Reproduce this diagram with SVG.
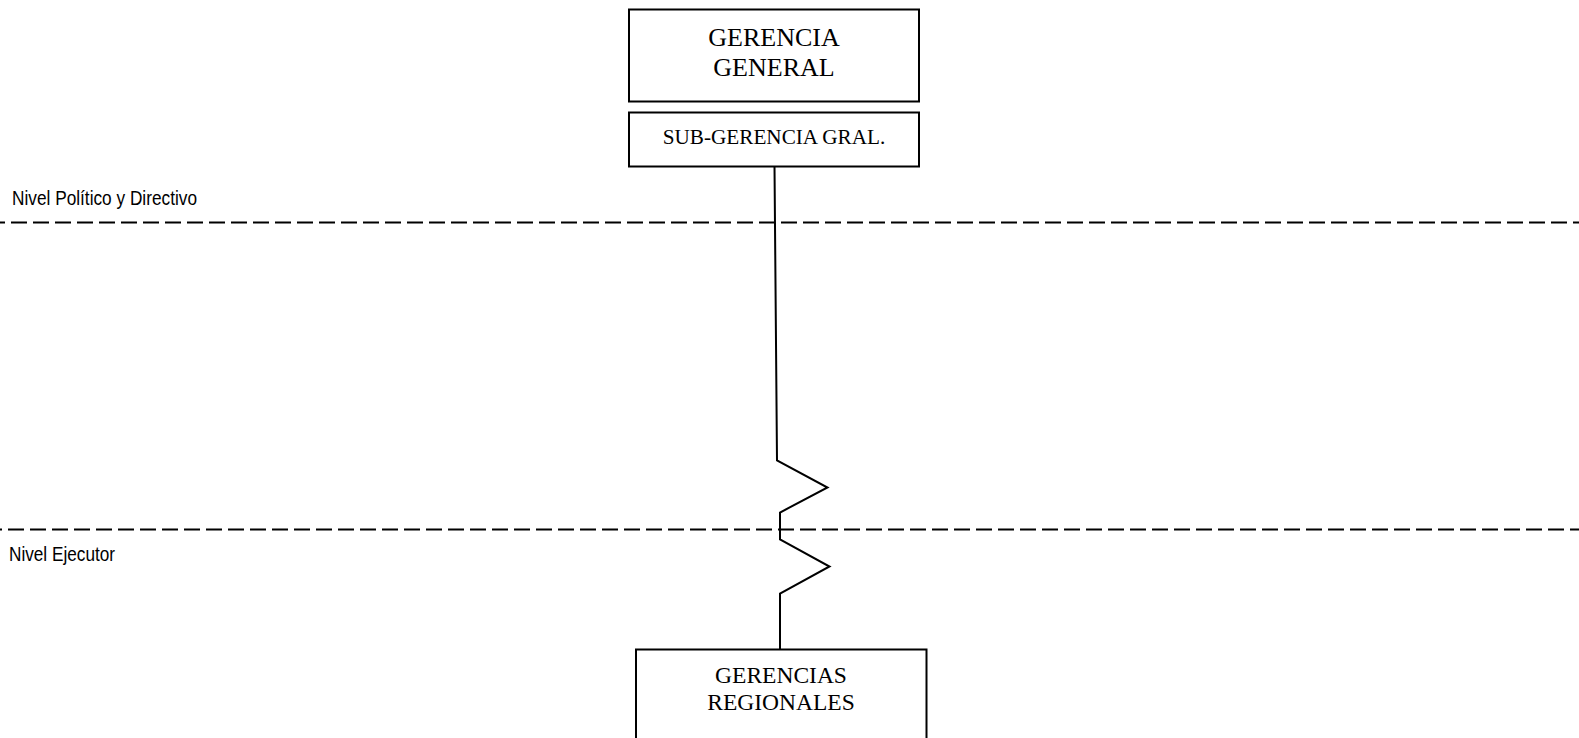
<svg xmlns="http://www.w3.org/2000/svg" width="1579" height="738" viewBox="0 0 1579 738">
  <style>
    .box { fill: #ffffff; stroke: #000000; stroke-width: 2; }
    .title { font-family: "Liberation Serif", "Times New Roman", serif; fill: #000000; text-anchor: middle; }
    .level { font-family: "Liberation Sans", Arial, sans-serif; font-size: 20px; fill: #000000; }
    .divider { stroke: #000000; stroke-width: 2; stroke-dasharray: 16 6; fill: none; }
    .link { stroke: #000000; stroke-width: 2; fill: none; stroke-linejoin: miter; }
  </style>
  <rect width="1579" height="738" fill="#ffffff"/>

  <!-- level dividers -->
  <g id="levels">
    <line class="divider" x1="0" y1="222.5" x2="1579" y2="222.5" stroke-dashoffset="11"/>
    <line class="divider" x1="0" y1="529.5" x2="1579" y2="529.5" stroke-dashoffset="14"/>
    <text class="level" x="12" y="205" textLength="185" lengthAdjust="spacingAndGlyphs">Nivel Político y Directivo</text>
    <text class="level" x="9" y="561" textLength="106" lengthAdjust="spacingAndGlyphs">Nivel Ejecutor</text>
  </g>

  <!-- connectors -->
  <g id="connectors">
    <polyline class="link" points="774.5,166 777,460.5 827.5,487.5 780,512.5 780,539.5 829.5,566.5 780,593.5 780,649.5"/>
  </g>

  <g id="gerencia-general">
    <rect class="box" x="629" y="9.5" width="290" height="92"/>
    <text class="title" x="774" y="45.5" font-size="26">GERENCIA</text>
    <text class="title" x="774" y="76" font-size="26">GENERAL</text>
  </g>

  <g id="sub-gerencia">
    <rect class="box" x="629" y="112.5" width="290" height="54"/>
    <text class="title" x="774" y="143.5" font-size="21.2">SUB-GERENCIA GRAL.</text>
  </g>

  <g id="gerencias-regionales">
    <rect class="box" x="636" y="649.5" width="290.5" height="100"/>
    <text class="title" x="781" y="682.5" font-size="23.5">GERENCIAS</text>
    <text class="title" x="781" y="710" font-size="23.5">REGIONALES</text>
  </g>
</svg>
